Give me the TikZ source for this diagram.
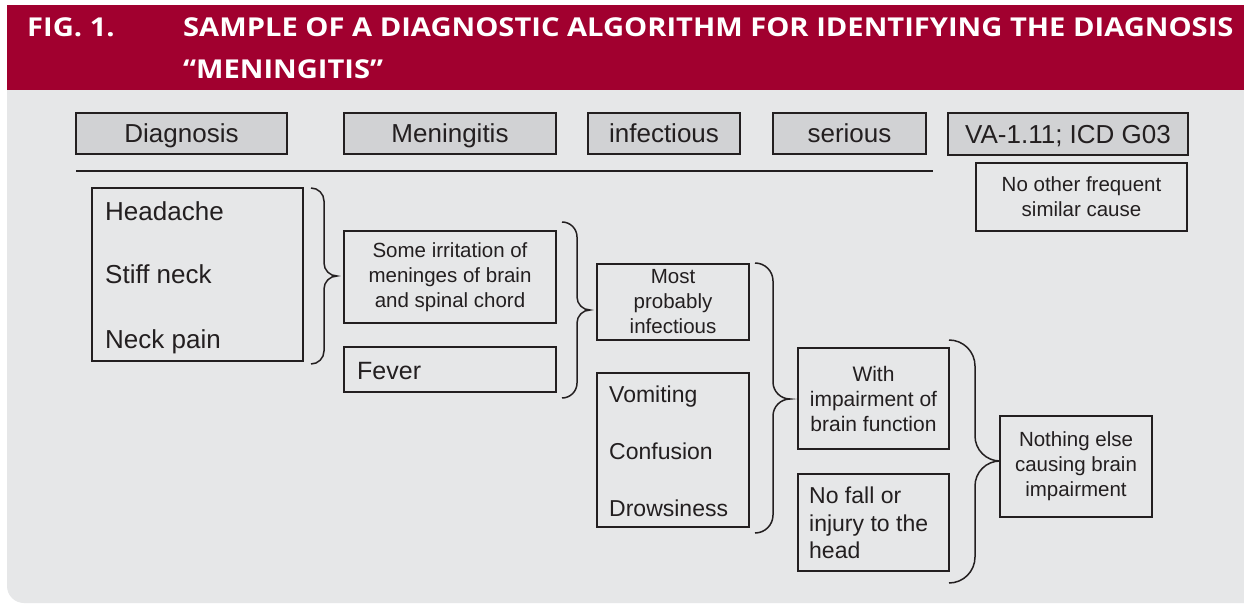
\documentclass[tikz,border=0pt]{standalone}
\usepackage{fontspec}
\setmainfont{Liberation Sans}
\newfontfamily\titlefont{Open Sans}
\definecolor{band}{HTML}{A1002F}
\definecolor{panel}{HTML}{E6E7E8}
\definecolor{boxgray}{HTML}{D1D2D4}
\definecolor{ink}{HTML}{231F20}
\newcommand\curlybrace[6]{% x0 ytop ybot xm xt ym
  \pgfmathsetmacro\bra{#4-#1}\pgfmathsetmacro\brb{#5-#4}%
  \pgfmathsetmacro\bka{0.552*\bra}\pgfmathsetmacro\bkb{0.552*\brb}%
  \draw[brc] (#1,#2) .. controls ({#1+\bka},#2) and (#4,{#2+\bra-\bka}) .. (#4,{#2+\bra})
    -- (#4,{#6-\brb}) .. controls (#4,{#6-\brb+\bkb}) and ({#5-\bkb},#6) .. (#5,#6)
    .. controls ({#5-\bkb},#6) and (#4,{#6+\brb-\bkb}) .. (#4,{#6+\brb})
    -- (#4,{#3-\bra}) .. controls (#4,{#3-\bra+\bka}) and ({#1+\bka},#3) .. (#1,#3);}
\begin{document}
\begin{tikzpicture}[x=1pt,y=-1pt,
  brc/.style={draw=ink,line width=1.5pt},
  hbox/.style={draw=ink,line width=1.3pt,fill=boxgray,inner sep=0pt,text=ink,
    text height=18.6pt,text depth=0pt,font=\fontsize{26}{30}\selectfont},
  cbox/.style={draw=ink,line width=1.3pt,fill=panel,inner sep=0pt,text=ink,align=center},
  ebox/.style={draw=ink,line width=1.3pt,fill=panel,inner sep=0pt},
  ltext/.style={anchor=base west,inner sep=0pt,text=ink},
  ttext/.style={anchor=base west,inner sep=0pt,text=white,font=\titlefont\bfseries\fontsize{26}{30}\selectfont}]
\useasboundingbox (0,0) rectangle (1244,604);
\fill[white] (0,0) rectangle (1244,604);
\fill[panel,rounded corners=17] (7,90) rectangle (1280,603);
\fill[panel] (7,88) rectangle (60,130);
\fill[band] (7,5) rectangle (1244,90);
% title
\node[ttext] (fig) at (27,37) {\scalebox{1.12}[1]{FIG. 1.}};
\node[ttext] (t1) at (183,37) {\scalebox{1.12}[1]{SAMPLE OF A DIAGNOSTIC ALGORITHM FOR IDENTIFYING THE DIAGNOSIS}};
\node[ttext] (t2) at (183,79) {\scalebox{1.12}[1]{“MENINGITIS”}};
% header row
\node[hbox,minimum width=211pt,minimum height=41pt] (diag) at (181.5,133.5) {Diagnosis};
\node[hbox,minimum width=212pt,minimum height=41pt] (men) at (450,133.5) {Meningitis};
\node[hbox,minimum width=152pt,minimum height=41pt] (inf) at (664,133.5) {infectious};
\node[hbox,minimum width=153pt,minimum height=41pt] (ser) at (849.5,133.5) {serious};
\node[hbox,minimum width=240pt,minimum height=42pt] (va) at (1068,134) {VA-1.11; ICD G03};
\coordinate (l1) at (76,171);
\coordinate (l2) at (933,171);
\draw[ink,line width=2pt] (l1) -- (l2);
\node[cbox,minimum width=211pt,minimum height=68pt,font=\fontsize{20.5}{25}\selectfont] (noother) at (1081.5,197) {No other frequent\\similar cause};
% column 1
\node[ebox,minimum width=211pt,minimum height=173pt] (sym1) at (197.5,274.5) {};
\node[ltext,font=\fontsize{26}{30}\selectfont] (head) at (105,220) {Headache};
\node[ltext,font=\fontsize{26}{30}\selectfont] (stiff) at (105,283) {Stiff neck};
\node[ltext,font=\fontsize{26}{30}\selectfont] (neck) at (105,348) {Neck pain};
\curlybrace{311}{188}{364}{324}{337}{276}
% column 2
\node[cbox,minimum width=212pt,minimum height=92pt,font=\fontsize{20.5}{25}\selectfont] (irr) at (450,277) {Some irritation of\\meninges of brain\\and spinal chord};
\node[ebox,minimum width=212pt,minimum height=45pt] (feverbox) at (450,369.5) {};
\node[ltext,font=\fontsize{25}{30}\selectfont] (fever) at (357,379) {Fever};
\curlybrace{562}{222}{398}{577}{590}{310}
% column 3
\node[cbox,minimum width=152pt,minimum height=76pt,font=\fontsize{20.5}{25}\selectfont] (most) at (673,302) {Most\\probably\\infectious};
\node[ebox,minimum width=152pt,minimum height=154pt] (sym2) at (673,450) {};
\node[ltext,font=\fontsize{23}{28}\selectfont] (vom) at (609,402) {Vomiting};
\node[ltext,font=\fontsize{23}{28}\selectfont] (conf) at (609,459) {Confusion};
\node[ltext,font=\fontsize{23}{28}\selectfont] (drow) at (609,516) {Drowsiness};
\curlybrace{755}{263}{533}{773}{790}{399}
% column 4
\node[cbox,minimum width=151pt,minimum height=101pt,font=\fontsize{21}{25}\selectfont] (impair) at (873.5,398.5) {With\\impairment of\\brain function};
\node[ebox,minimum width=151pt,minimum height=97pt] (nofallbox) at (873.5,522.5) {};
\node[ltext,font=\fontsize{23}{28}\selectfont] (nf1) at (809,503) {No fall or};
\node[ltext,font=\fontsize{23}{28}\selectfont] (nf2) at (809,531) {injury to the};
\node[ltext,font=\fontsize{23}{28}\selectfont] (nf3) at (809,558) {head};
\curlybrace{949}{340}{583}{975}{1000}{461}
% column 5
\node[cbox,minimum width=152pt,minimum height=101pt,font=\fontsize{20.5}{25}\selectfont] (nothing) at (1076,466.5) {Nothing else\\causing brain\\impairment};
\end{tikzpicture}
\end{document}
